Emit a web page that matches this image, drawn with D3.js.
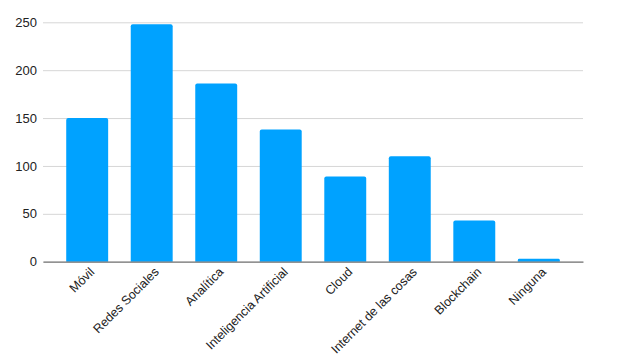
<!DOCTYPE html>
<html><head><meta charset="utf-8">
<script src="https://cdn.jsdelivr.net/npm/d3@7"></script>
<style>body{margin:0;background:#fff}svg{display:block}</style>
</head><body>
<script>
const categories = ["Móvil","Redes Sociales","Analítica","Inteligencia Artificial","Cloud","Internet de las cosas","Blockchain","Ninguna"];
const values = [150,248,186,138,89,110,43,3];
const yTicks = [0,50,100,150,200,250];

const W=624,H=359;
const svg=d3.select("body").append("svg").attr("width",W).attr("height",H);
const x=d3.scaleBand().domain(categories).range([43,583]).paddingInner(0.35).paddingOuter(0.36);
const y=d3.scaleLinear().domain([0,250]).range([261.7,22.3]);
const font="Helvetica, Arial, 'Liberation Sans', sans-serif";

const grid=svg.append("g").attr("transform","translate(43,0)")
  .call(d3.axisLeft(y).tickValues(yTicks).tickSize(-540).tickFormat(d3.format("d")).tickPadding(6));
grid.select(".domain").remove();
grid.selectAll(".tick line").attr("stroke","#d6d6d6").attr("stroke-width",1);
grid.selectAll(".tick text").attr("font-family",font).attr("font-size",13).attr("fill","#222");

svg.append("g").selectAll("path").data(values).join("path")
  .attr("fill","#00A2FF")
  .attr("d",(d,i)=>{const x0=x(categories[i]),w=x.bandwidth(),y0=y(d),y1=y(0),r=Math.min(2,(y1-y0)/2);
    return `M${x0},${y1}V${y0+r}Q${x0},${y0} ${x0+r},${y0}H${x0+w-r}Q${x0+w},${y0} ${x0+w},${y0+r}V${y1}Z`;});

const xa=svg.append("g").attr("transform",`translate(0,${y(0)})`)
  .call(d3.axisBottom(x).tickSize(0).tickPadding(0));
xa.select(".domain").attr("stroke","#777").attr("stroke-width",1.2);
xa.selectAll(".tick text").attr("font-family",font).attr("font-size",12.5).attr("fill","#222")
  .attr("text-anchor","end").attr("dy",0).attr("y",0).attr("x",0)
  .attr("transform","translate(8,11) rotate(-45)");
</script>
</body></html>
